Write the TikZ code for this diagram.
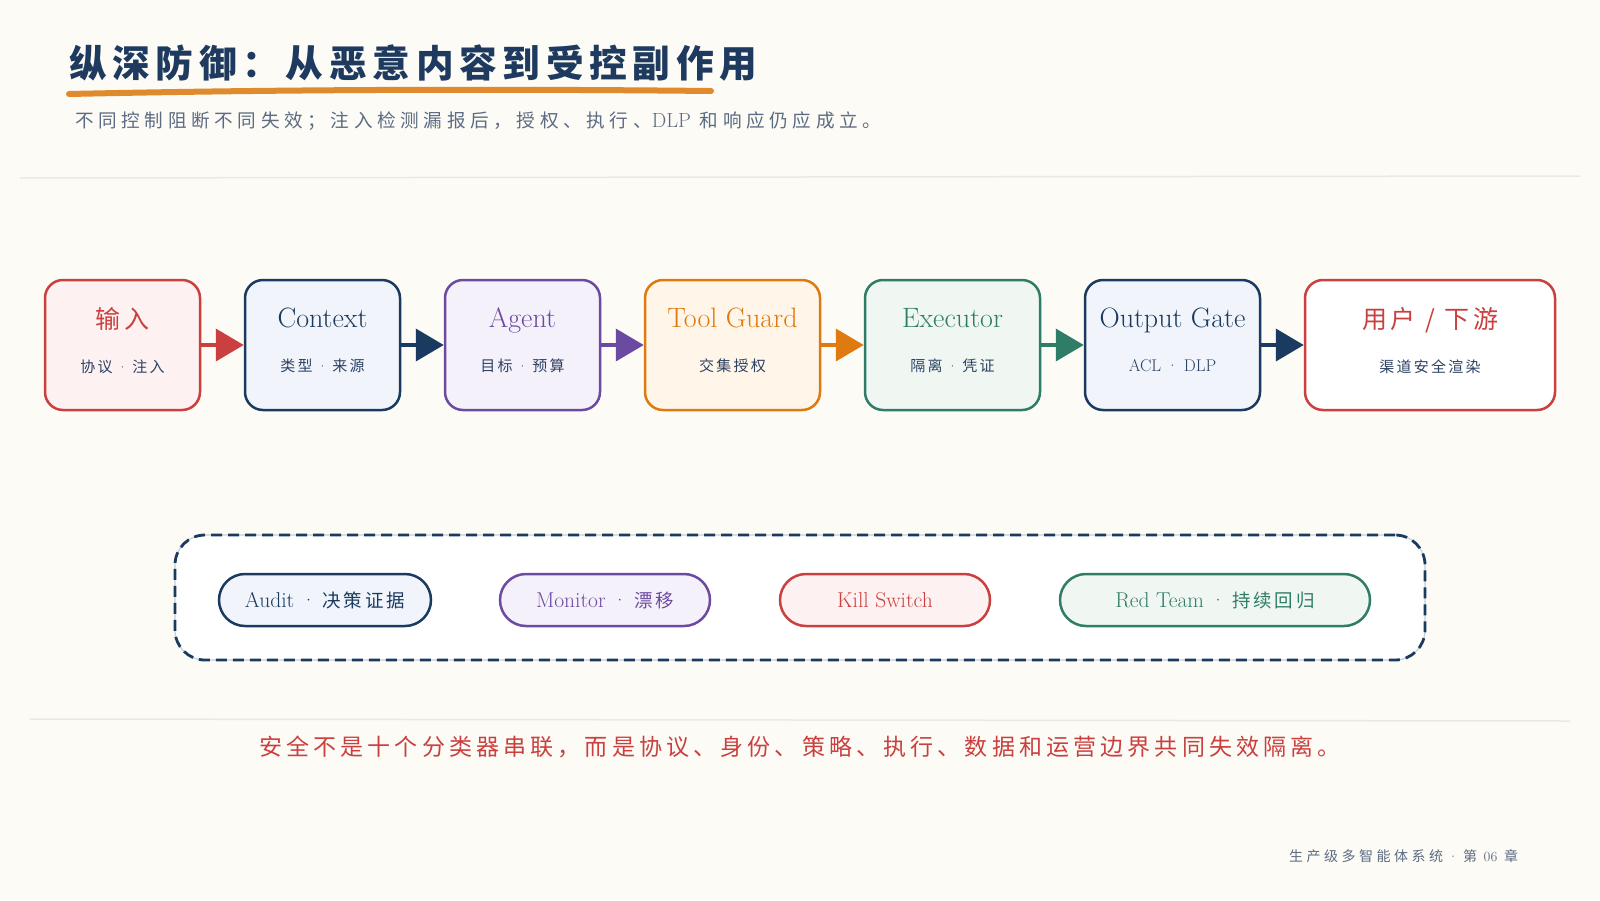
\documentclass[tikz,border=0pt]{standalone}
\usepackage{fontspec}
\usepackage{xcolor}
\usepackage{tikz}
\usetikzlibrary{arrows.meta}
\newfontfamily\cjk[LetterSpace=15]{Noto Sans CJK SC}
\newfontfamily\cjkmid[LetterSpace=18]{Noto Sans CJK SC}
\newfontfamily\cjkwide[LetterSpace=25]{Noto Sans CJK SC}
\definecolor{ddpaper}{HTML}{FDFBF6}
\definecolor{ddtitle}{HTML}{1E3A5F}
\definecolor{ddgrey}{HTML}{5B6B82}
\definecolor{ddink}{HTML}{2D4263}
\definecolor{ddrule}{HTML}{EEE9E0}
\definecolor{ddunder}{HTML}{E08A2E}
\definecolor{ddred}{HTML}{C9403F}
\definecolor{ddnavy}{HTML}{1B3A5F}
\definecolor{ddpurple}{HTML}{6B4BA1}
\definecolor{ddorange}{HTML}{DE7A10}
\definecolor{ddgreen}{HTML}{2F7D66}
\definecolor{ddredbg}{HTML}{FDF1F1}
\definecolor{ddnavybg}{HTML}{F1F5FB}
\definecolor{ddpurplebg}{HTML}{F5F1FA}
\definecolor{ddorangebg}{HTML}{FFF6E9}
\definecolor{ddgreenbg}{HTML}{F0F7F3}
\newcommand{\boxsub}{\fontsize{15}{44}\selectfont\color{ddink}}
\newcommand{\sep}{{\rmfamily\ ·\ }}

\begin{document}
\begin{tikzpicture}[x=1pt, y=-1pt,
  every node/.style={align=center, inner sep=0pt},
  box/.style={draw=#1, fill=#1bg, text=#1, line width=2.5pt, rounded corners=18pt,
    minimum width=155pt, minimum height=130pt, text depth=10pt,
    font=\fontsize{28}{44}\selectfont},
  pill/.style={draw=#1, fill=#1bg, text=#1, line width=2.5pt, rounded corners=26pt,
    minimum width=210pt, minimum height=52pt, font=\fontsize{21.5}{24}\selectfont},
  arrow/.style={-{Triangle[length=28pt,width=32pt]}, line width=4pt, #1}
]
\fill[ddpaper] (0,0) rectangle (1600,900);
\useasboundingbox (0,0) rectangle (1600,900);

% header
\node[anchor=west, text=ddtitle, font=\cjk\bfseries\fontsize{37.7}{40}\selectfont] (title) at (69,63) {纵深防御：从恶意内容到受控副作用};
\draw[ddunder, line width=6pt, line cap=round] (69,94) .. controls (300,89) and (520,89) .. (711,91);
\node[anchor=west, text=ddgrey, font=\cjkwide\fontsize{18.6}{22}\selectfont] (lede) at (75,121) {不同控制阻断不同失效；注入检测漏报后，授权、执行、{\rmfamily\fontsize{20.5}{22}\selectfont DLP} 和响应仍应成立。};
\draw[ddrule, line width=1.5pt] (20,178) -- (1580,176);

% pipeline
\node[box=ddred] (input) at (122.5,345) {{\cjk\fontsize{25}{44}\selectfont 输入}\\{\boxsub\cjk 协议\sep 注入}};
\node[box=ddnavy] (context) at (322.5,345) {Context\\{\boxsub\cjk 类型\sep 来源}};
\node[box=ddpurple] (agent) at (522.5,345) {Agent\\{\boxsub\cjk 目标\sep 预算}};
\node[box=ddorange, minimum width=175pt] (guard) at (732.5,345) {Tool Guard\\{\boxsub\cjk 交集授权}};
\node[box=ddgreen, minimum width=175pt] (exec) at (952.5,345) {Executor\\{\boxsub\cjk 隔离\sep 凭证}};
\node[box=ddnavy, minimum width=175pt] (gate) at (1172.5,345) {Output Gate\\{\boxsub\fontsize{17}{44}\selectfont ACL · DLP}};
\node[box=ddred, fill=white, minimum width=250pt] (user) at (1430,345) {{\cjk\fontsize{25}{44}\selectfont 用户 / 下游}\\{\boxsub\cjk 渠道安全渲染}};

\draw[arrow=ddred] (input) -- (context);
\draw[arrow=ddnavy] (context) -- (agent);
\draw[arrow=ddpurple] (agent) -- (guard);
\draw[arrow=ddorange] (guard) -- (exec);
\draw[arrow=ddgreen] (exec) -- (gate);
\draw[arrow=ddnavy] (gate) -- (user);

% cross-cutting controls
\node[draw=ddnavy, line width=2.8pt, dash pattern=on 11pt off 6pt, rounded corners=30pt,
  minimum width=1250pt, minimum height=125pt,
  preaction={fill=white, draw=ddnavy!25, line width=1.2pt, solid}] (ops) at (800,597.5) {};
\node[pill=ddnavy, minimum width=212pt] (audit) at (325,600) {Audit\sep{\cjk\fontsize{18.5}{24}\selectfont 决策证据}};
\node[pill=ddpurple] (monitor) at (605,600) {Monitor\sep{\cjk\fontsize{18.5}{24}\selectfont 漂移}};
\node[pill=ddred] (kill) at (885,600) {Kill Switch};
\node[pill=ddgreen, minimum width=310pt] (redteam) at (1215,600) {Red Team\sep{\cjk\fontsize{18.5}{24}\selectfont 持续回归}};

% footer
\draw[ddrule, line width=1.5pt] (30,719) -- (1570,721);
\node[text=ddred, font=\cjkmid\fontsize{23}{26}\selectfont] (motto) at (800,747) {安全不是十个分类器串联，而是协议、身份、策略、执行、数据和运营边界共同失效隔离。};
\node[anchor=west, text=ddgrey, font=\cjkwide\fontsize{14}{16}\selectfont] (foot) at (1289,856) {生产级多智能体系统{\rmfamily\ ·\ }第 {\rmfamily 06} 章};

\end{tikzpicture}
\end{document}
